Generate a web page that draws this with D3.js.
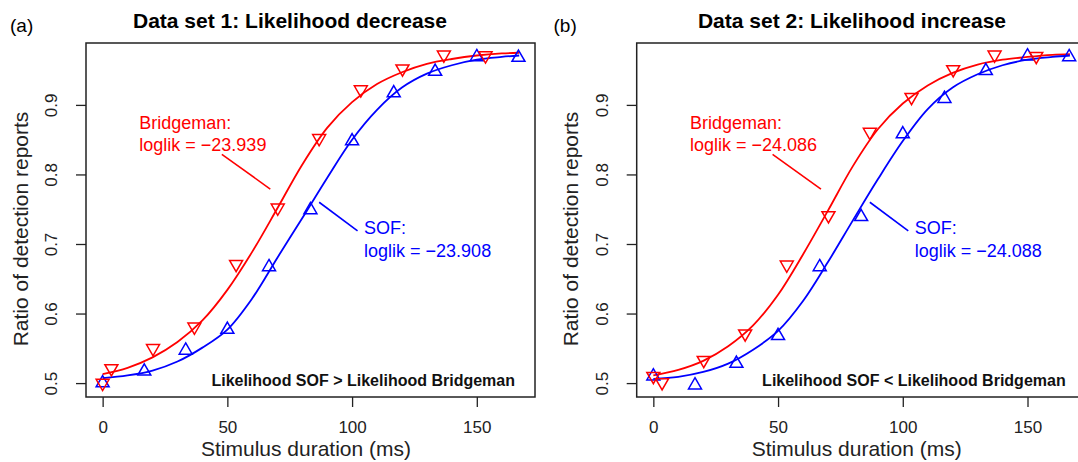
<!DOCTYPE html>
<html>
<head>
<meta charset="utf-8">
<script src="https://cdn.jsdelivr.net/npm/d3@7"></script>
<style>
  body { margin: 0; background: #fff; }
  svg text { font-family: "Liberation Sans", Arial, Helvetica, sans-serif; }
</style>
</head>
<body>
<div class="canvas"></div>
<script>
// observed detection ratios (points)
const sofDuration = [0, 16.7, 33.3, 50, 66.7, 83.3, 100, 116.7, 133.3, 150, 166.7];
const bridgemanDuration = [0, 3.5, 20.2, 36.8, 53.5, 70.2, 86.8, 103.5, 120.2, 136.8, 153.5];

const sofRatio1 = [0.500, 0.517, 0.547, 0.577, 0.667, 0.749, 0.848, 0.917, 0.948, 0.969, 0.968];
const bridgemanRatio1 = [0.500, 0.521, 0.550, 0.581, 0.671, 0.752, 0.852, 0.922, 0.952, 0.972, 0.971];
const sofRatio2 = [0.510, 0.497, 0.528, 0.568, 0.667, 0.739, 0.858, 0.909, 0.949, 0.970, 0.969];
const bridgemanRatio2 = [0.510, 0.501, 0.533, 0.571, 0.670, 0.741, 0.861, 0.911, 0.951, 0.972, 0.970];

// fitted curves
const fitDuration = [0, 10, 20, 30, 40, 50, 60, 70, 80, 90, 100, 110, 120, 130, 140, 150, 160, 167];
const sofFit1 = [0.507, 0.511, 0.518, 0.531, 0.551, 0.577, 0.622, 0.680, 0.737, 0.795, 0.850, 0.893, 0.925, 0.945, 0.957, 0.965, 0.969, 0.971];
const bridgemanFit1 = [0.513, 0.522, 0.537, 0.559, 0.590, 0.634, 0.689, 0.751, 0.814, 0.867, 0.904, 0.930, 0.947, 0.959, 0.966, 0.971, 0.974, 0.975];
const sofFit2 = [0.506, 0.509, 0.516, 0.528, 0.548, 0.575, 0.618, 0.674, 0.734, 0.793, 0.848, 0.894, 0.925, 0.944, 0.957, 0.965, 0.969, 0.971];
const bridgemanFit2 = [0.511, 0.519, 0.532, 0.553, 0.583, 0.627, 0.685, 0.748, 0.812, 0.865, 0.902, 0.928, 0.946, 0.958, 0.965, 0.969, 0.972, 0.973];

const xTicks = [0, 50, 100, 150];
const yTicks = [0.5, 0.6, 0.7, 0.8, 0.9];
const panelTitles = ["Data set 1: Likelihood decrease", "Data set 2: Likelihood increase"];
const panelLetters = ["(a)", "(b)"];
const bridgemanLoglik = ["\u221223.939", "\u221224.086"];
const sofLoglik = ["\u221223.908", "\u221224.088"];
const comparisons = ["Likelihood SOF > Likelihood Bridgeman", "Likelihood SOF < Likelihood Bridgeman"];

const RED = "#ff0000", BLUE = "#0000ff";
const dims = {width: 1078, height: 462, plotW: 449, plotH: 354, top: 43};
const panelLeft = [86, 636.7];
const letterX = [10, 553.5];
const titleX = [290, 852];

const svg = d3.select(".canvas")
    .append("svg")
    .attr("width", dims.width)
    .attr("height", dims.height);

const x = d3.scaleLinear().domain([-6.67, 173.33]).range([0, dims.plotW]);
const y = d3.scaleLinear().domain([0.48, 0.989]).range([dims.plotH, 0]);

const line = d3.line()
    .x((d, i) => x(fitDuration[i]))
    .y(d => y(d))
    .curve(d3.curveCatmullRom);

const triSize = 73;
const upTri = d3.symbol().type(d3.symbolTriangle).size(triSize);

const drawPanel = (k, sofRatio, bridgemanRatio, sofFit, bridgemanFit) => {
    const left = panelLeft[k];
    const g = svg.append("g").attr("transform", `translate(${left}, ${dims.top})`);

    // panel letter and title
    svg.append("text")
        .attr("x", letterX[k]).attr("y", 32)
        .style("font-size", "19px")
        .text(panelLetters[k]);
    svg.append("text")
        .attr("x", titleX[k]).attr("y", 27.5)
        .attr("text-anchor", "middle")
        .style("font-size", "21px").style("font-weight", "bold")
        .text(panelTitles[k]);

    // axes
    const xAxis = g.append("g")
        .attr("transform", `translate(0, ${dims.plotH})`)
        .call(d3.axisBottom(x).tickValues(xTicks).tickSize(10).tickPadding(14));
    const yAxis = g.append("g")
        .call(d3.axisLeft(y).tickValues(yTicks).tickSize(10).tickFormat(d3.format(".1f")));
    [xAxis, yAxis].forEach(a => {
        a.select(".domain").remove();
        a.selectAll("line").attr("stroke", "#222").attr("stroke-width", 1.3);
        a.selectAll("text").attr("fill", "#222").style("font-size", "17px");
    });
    yAxis.selectAll("text")
        .attr("x", null).attr("dy", null)
        .attr("text-anchor", "middle")
        .attr("transform", "translate(-28.7, 0) rotate(-90)");

    g.append("text")
        .attr("x", 220).attr("y", dims.plotH + 59)
        .attr("text-anchor", "middle")
        .style("font-size", "21px").attr("fill", "#222")
        .text("Stimulus duration (ms)");
    g.append("text")
        .attr("transform", `translate(-58.5, 186) rotate(-90)`)
        .attr("text-anchor", "middle")
        .style("font-size", "21px").attr("fill", "#222")
        .text("Ratio of detection reports");

    // fitted curves
    g.append("path").datum(bridgemanFit)
        .attr("d", line).attr("fill", "none")
        .attr("stroke", RED).attr("stroke-width", 1.8);
    g.append("path").datum(sofFit)
        .attr("d", line).attr("fill", "none")
        .attr("stroke", BLUE).attr("stroke-width", 1.8);

    // observed points
    g.selectAll("path.sof").data(sofRatio).enter()
        .append("path").attr("class", "sof")
        .attr("d", upTri)
        .attr("transform", (d, i) => `translate(${x(sofDuration[i])}, ${y(d)})`)
        .attr("fill", "none").attr("stroke", BLUE).attr("stroke-width", 1.5);
    g.selectAll("path.bridgeman").data(bridgemanRatio).enter()
        .append("path").attr("class", "bridgeman")
        .attr("d", upTri)
        .attr("transform", (d, i) => `translate(${x(bridgemanDuration[i])}, ${y(d)}) rotate(180)`)
        .attr("fill", "none").attr("stroke", RED).attr("stroke-width", 1.5);

    // annotations
    const note = (txt, ms, v, color) => g.append("text")
        .attr("x", x(ms)).attr("y", y(v))
        .style("font-size", "18px").attr("fill", color)
        .text(txt);
    note("Bridgeman:", 14.7, 0.8656, RED);
    note("loglik = " + bridgemanLoglik[k], 14.7, 0.833, RED);
    note("SOF:", 104.8, 0.714, BLUE);
    note("loglik = " + sofLoglik[k], 104.8, 0.682, BLUE);
    g.append("line")
        .attr("x1", x(47.8)).attr("y1", y(0.829))
        .attr("x2", x(67.2)).attr("y2", y(0.779))
        .attr("stroke", RED).attr("stroke-width", 1.6);
    g.append("line")
        .attr("x1", x(86.8)).attr("y1", y(0.760))
        .attr("x2", x(102.2)).attr("y2", y(0.719))
        .attr("stroke", BLUE).attr("stroke-width", 1.6);

    g.append("text")
        .attr("x", dims.plotW - 20).attr("y", dims.plotH - 11.3)
        .attr("text-anchor", "end")
        .style("font-size", "16px").style("font-weight", "bold").attr("fill", "#111")
        .text(comparisons[k]);

    // box
    g.append("rect")
        .attr("width", dims.plotW).attr("height", dims.plotH)
        .attr("fill", "none").attr("stroke", "#222").attr("stroke-width", 1.5);
};

drawPanel(0, sofRatio1, bridgemanRatio1, sofFit1, bridgemanFit1);
drawPanel(1, sofRatio2, bridgemanRatio2, sofFit2, bridgemanFit2);
</script>
</body>
</html>
